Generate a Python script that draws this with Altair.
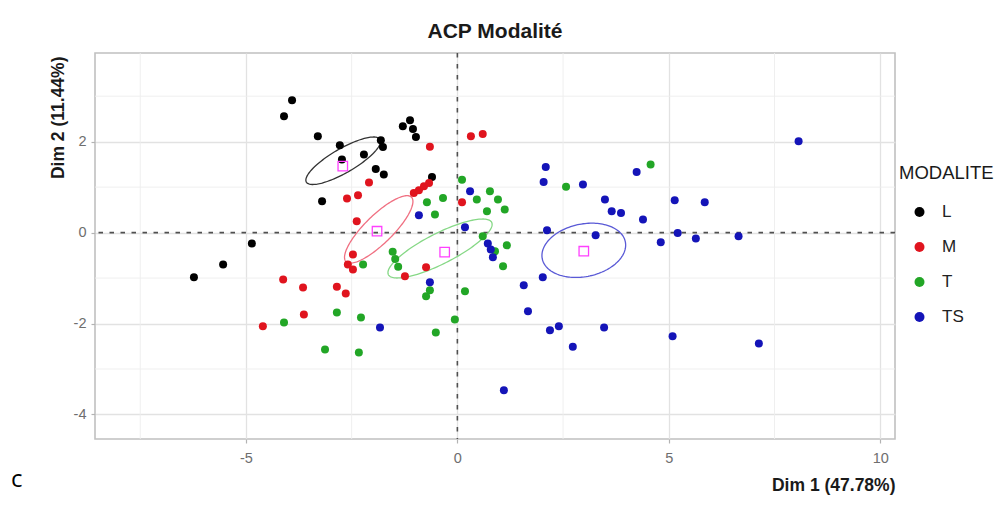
import altair as alt
import numpy as np
import pandas as pd

# ---------------- data ----------------
groups = ["L", "M", "T", "TS"]
point_colors = ["#000000", "#e0141e", "#22a626", "#1414b8"]

L_x = [-3.91, -4.10, -3.30, -2.78, -2.21, -1.81, -1.76, -2.73, -1.93, -1.74,
       -3.20, -1.29, -1.12, -1.05, -0.98, -0.60, -4.86, -5.54, -6.23]
L_y = [2.91, 2.56, 2.12, 1.92, 1.72, 2.03, 1.88, 1.61, 1.40, 1.28,
       0.69, 2.34, 2.47, 2.28, 2.10, 1.22, -0.24, -0.70, -0.98]

M_x = [-0.65, 0.32, 0.60, -2.09, -2.35, -2.61, -1.03, -0.91, -0.79, -0.67,
       0.11, -2.38, -2.47, -2.59, -2.47, -1.24, -0.74, -4.12, -3.65, -2.85,
       -2.64, -3.63, -4.60]
M_y = [1.89, 2.12, 2.17, 1.10, 0.82, 0.75, 0.87, 0.93, 1.02, 1.09,
       0.67, 0.25, -0.48, -0.70, -0.81, -0.96, -0.76, -1.03, -1.21, -1.19,
       -1.34, -1.80, -2.06]

T_x = [4.57, 2.57, 0.11, 0.77, 0.96, 0.46, 0.70, 1.12, 0.60, 0.89,
       1.17, 1.08, -0.72, -0.34, -0.53, -2.23, -1.53, -1.47, -1.40, -0.74,
       -0.65, 0.18, -0.06, -0.51, -2.85, -2.28, -3.13, -2.33, -4.10]
T_y = [1.50, 1.01, 1.16, 0.91, 0.73, 0.73, 0.47, 0.51, -0.08, -0.41,
       -0.28, -0.74, 0.67, 0.76, 0.40, -0.70, -0.42, -0.58, -0.75, -1.40,
       -1.27, -1.29, -1.91, -2.20, -1.76, -1.87, -2.57, -2.64, -1.98]

TS_x = [8.07, 2.09, 2.04, 2.97, 4.24, 3.49, 3.65, 3.87, 4.39, 5.14,
        5.85, 2.12, 3.27, 4.81, 5.21, 5.64, 6.65, 0.30, 0.18, 0.72,
        0.79, 0.84, -0.91, -0.65, -1.83, 1.57, 2.02, 1.67, 2.19, 2.40,
        2.73, 3.47, 1.10, 5.09, 7.13]
TS_y = [2.01, 1.44, 1.11, 1.06, 1.33, 0.73, 0.47, 0.43, 0.29, 0.71,
        0.67, 0.05, -0.06, -0.21, -0.01, -0.13, -0.08, 0.91, 0.12, -0.24,
        -0.37, -0.54, 0.38, -1.09, -2.09, -1.16, -0.98, -1.73, -2.15, -2.06,
        -2.51, -2.09, -3.47, -2.28, -2.44]

# barycentres (open squares)
bary_x = [-2.71, -1.90, -0.30, 2.99]
bary_y = [1.46, 0.03, -0.43, -0.41]

# confidence ellipses: centre, semi-axes, rotation (degrees)
ell_cx = [-2.70, -1.86, -0.41, 2.99]
ell_cy = [1.58, 0.07, -0.35, -0.39]
ell_a = [0.99, 1.05, 1.35, 1.00]
ell_b = [0.27, 0.32, 0.34, 0.58]
ell_angle = [28, 42, 25, 10]
ell_colors = ["#333333", "#f07082", "#86d886", "#5a5ad6"]

major_x = [-5, 0, 5, 10]
major_y = [-4, -2, 0, 2]
minor_x = [-7.5, -2.5, 2.5, 7.5]
minor_y = [-3, -1, 1, 3]
x_domain = [-8.57, 10.35]
y_domain = [-4.54, 3.95]
ref_lines = [0]
panel_letter = ["c"]

# ---------------- tables ----------------
pts = pd.concat([
    pd.DataFrame({"x": xs, "y": ys, "group": g})
    for g, xs, ys in zip(groups, [L_x, M_x, T_x, TS_x], [L_y, M_y, T_y, TS_y])
], ignore_index=True)

bary = pd.DataFrame({"x": bary_x, "y": bary_y, "bgroup": groups})

t = np.linspace(0, 2 * np.pi, 145)
ell_rows = []
for g, cx, cy, a, b, ang in zip(groups, ell_cx, ell_cy, ell_a, ell_b, ell_angle):
    th = np.deg2rad(ang)
    ex = cx + a * np.cos(t) * np.cos(th) - b * np.sin(t) * np.sin(th)
    ey = cy + a * np.cos(t) * np.sin(th) + b * np.sin(t) * np.cos(th)
    ell_rows.append(pd.DataFrame({"x": ex, "y": ey, "egroup": g, "i": np.arange(len(t))}))
ell = pd.concat(ell_rows, ignore_index=True)

FONT = "Liberation Sans"

x_axis = alt.Axis(values=major_x, grid=True, gridColor="#e2e2e2", gridWidth=1.3,
                  domain=False, ticks=True, tickColor="#b3b3b3", tickSize=4, tickWidth=1.2,
                  labelFont=FONT, labelFontSize=14.5, labelColor="#6e6e6e", labelPadding=8,
                  labelExpr="datum.value + ''",
                  title="Dim 1 (47.78%)", titleFont=FONT, titleFontSize=17.5,
                  titleFontWeight="bold", titleColor="#1a1a1a",
                  titleX=800, titleY=51, titleAlign="right", titleBaseline="alphabetic")
y_axis = alt.Axis(values=major_y, grid=True, gridColor="#e2e2e2", gridWidth=1.3,
                  domain=False, ticks=True, tickColor="#b3b3b3", tickSize=4, tickWidth=1.2,
                  labelFont=FONT, labelFontSize=14.5, labelColor="#6e6e6e", labelPadding=5,
                  labelExpr="datum.value + ''",
                  title="Dim 2 (11.44%)", titleFont=FONT, titleFontSize=17.5,
                  titleFontWeight="bold", titleColor="#1a1a1a",
                  titleX=-37, titleY=3, titleAngle=270, titleAlign="right",
                  titleBaseline="middle")

X = alt.X("x:Q", scale=alt.Scale(domain=x_domain, nice=False, zero=False), axis=x_axis)
Y = alt.Y("y:Q", scale=alt.Scale(domain=y_domain, nice=False, zero=False), axis=y_axis)

minor_v = alt.Chart(pd.DataFrame({"x": minor_x})).mark_rule(
    color="#ededed", strokeWidth=0.9).encode(x=X)
minor_h = alt.Chart(pd.DataFrame({"y": minor_y})).mark_rule(
    color="#ededed", strokeWidth=0.9).encode(y=Y)

zero_v = alt.Chart(pd.DataFrame({"x": ref_lines})).mark_rule(
    color="#505050", strokeWidth=1.6, strokeDash=[4.5, 6.5]).encode(x=X)
zero_h = alt.Chart(pd.DataFrame({"y": ref_lines})).mark_rule(
    color="#505050", strokeWidth=1.6, strokeDash=[4.5, 6.5]).encode(y=Y)

ellipses = alt.Chart(ell).mark_line(strokeWidth=1.3).encode(
    x=X, y=Y, detail="egroup:N", order="i:Q",
    stroke=alt.Stroke("egroup:N", scale=alt.Scale(domain=groups, range=ell_colors), legend=None),
)

points = alt.Chart(pts).mark_circle(size=64, opacity=1).encode(
    x=X, y=Y,
    color=alt.Color("group:N", scale=alt.Scale(domain=groups, range=point_colors),
                    legend=alt.Legend(title="MODALITE", orient="none", legendX=804, legendY=111,
                                      titleFont=FONT, titleFontSize=18.5, titleFontWeight="normal",
                                      titleColor="#1a1a1a", titlePadding=21,
                                      labelFont=FONT, labelFontSize=17, labelColor="#222222",
                                      symbolType="circle", symbolSize=100, symbolStrokeWidth=0,
                                      symbolOffset=12, labelOffset=14, rowPadding=17)),
)

barys = alt.Chart(bary).mark_point(shape="square", filled=False, size=90,
                                   color="#ff40ff", strokeWidth=1.3, opacity=1).encode(x=X, y=Y)

letter = alt.Chart(pd.DataFrame({"t": panel_letter})).mark_text(
    font="Open Sans", fontSize=24, fontWeight="normal", align="left", baseline="alphabetic",
    color="#000000"
).encode(x=alt.value(-84), y=alt.value(434), text="t:N")

chart = alt.layer(minor_v, minor_h, zero_v, zero_h, ellipses, points, barys, letter).resolve_scale(
    stroke="independent", color="independent"
).properties(
    width=800, height=386,
    padding={"left": 87, "top": 45, "right": 102, "bottom": 58},
    autosize=alt.AutoSizeParams(type="none"),
    background="white",
    title=alt.TitleParams("ACP Modalité", font=FONT, fontSize=21, fontWeight="bold",
                          color="#1a1a1a", anchor="middle", offset=10),
).configure_view(stroke="#c0c0c0", strokeWidth=1.6)

chart.save("out.html", embed_options={"renderer": "svg", "actions": False})
